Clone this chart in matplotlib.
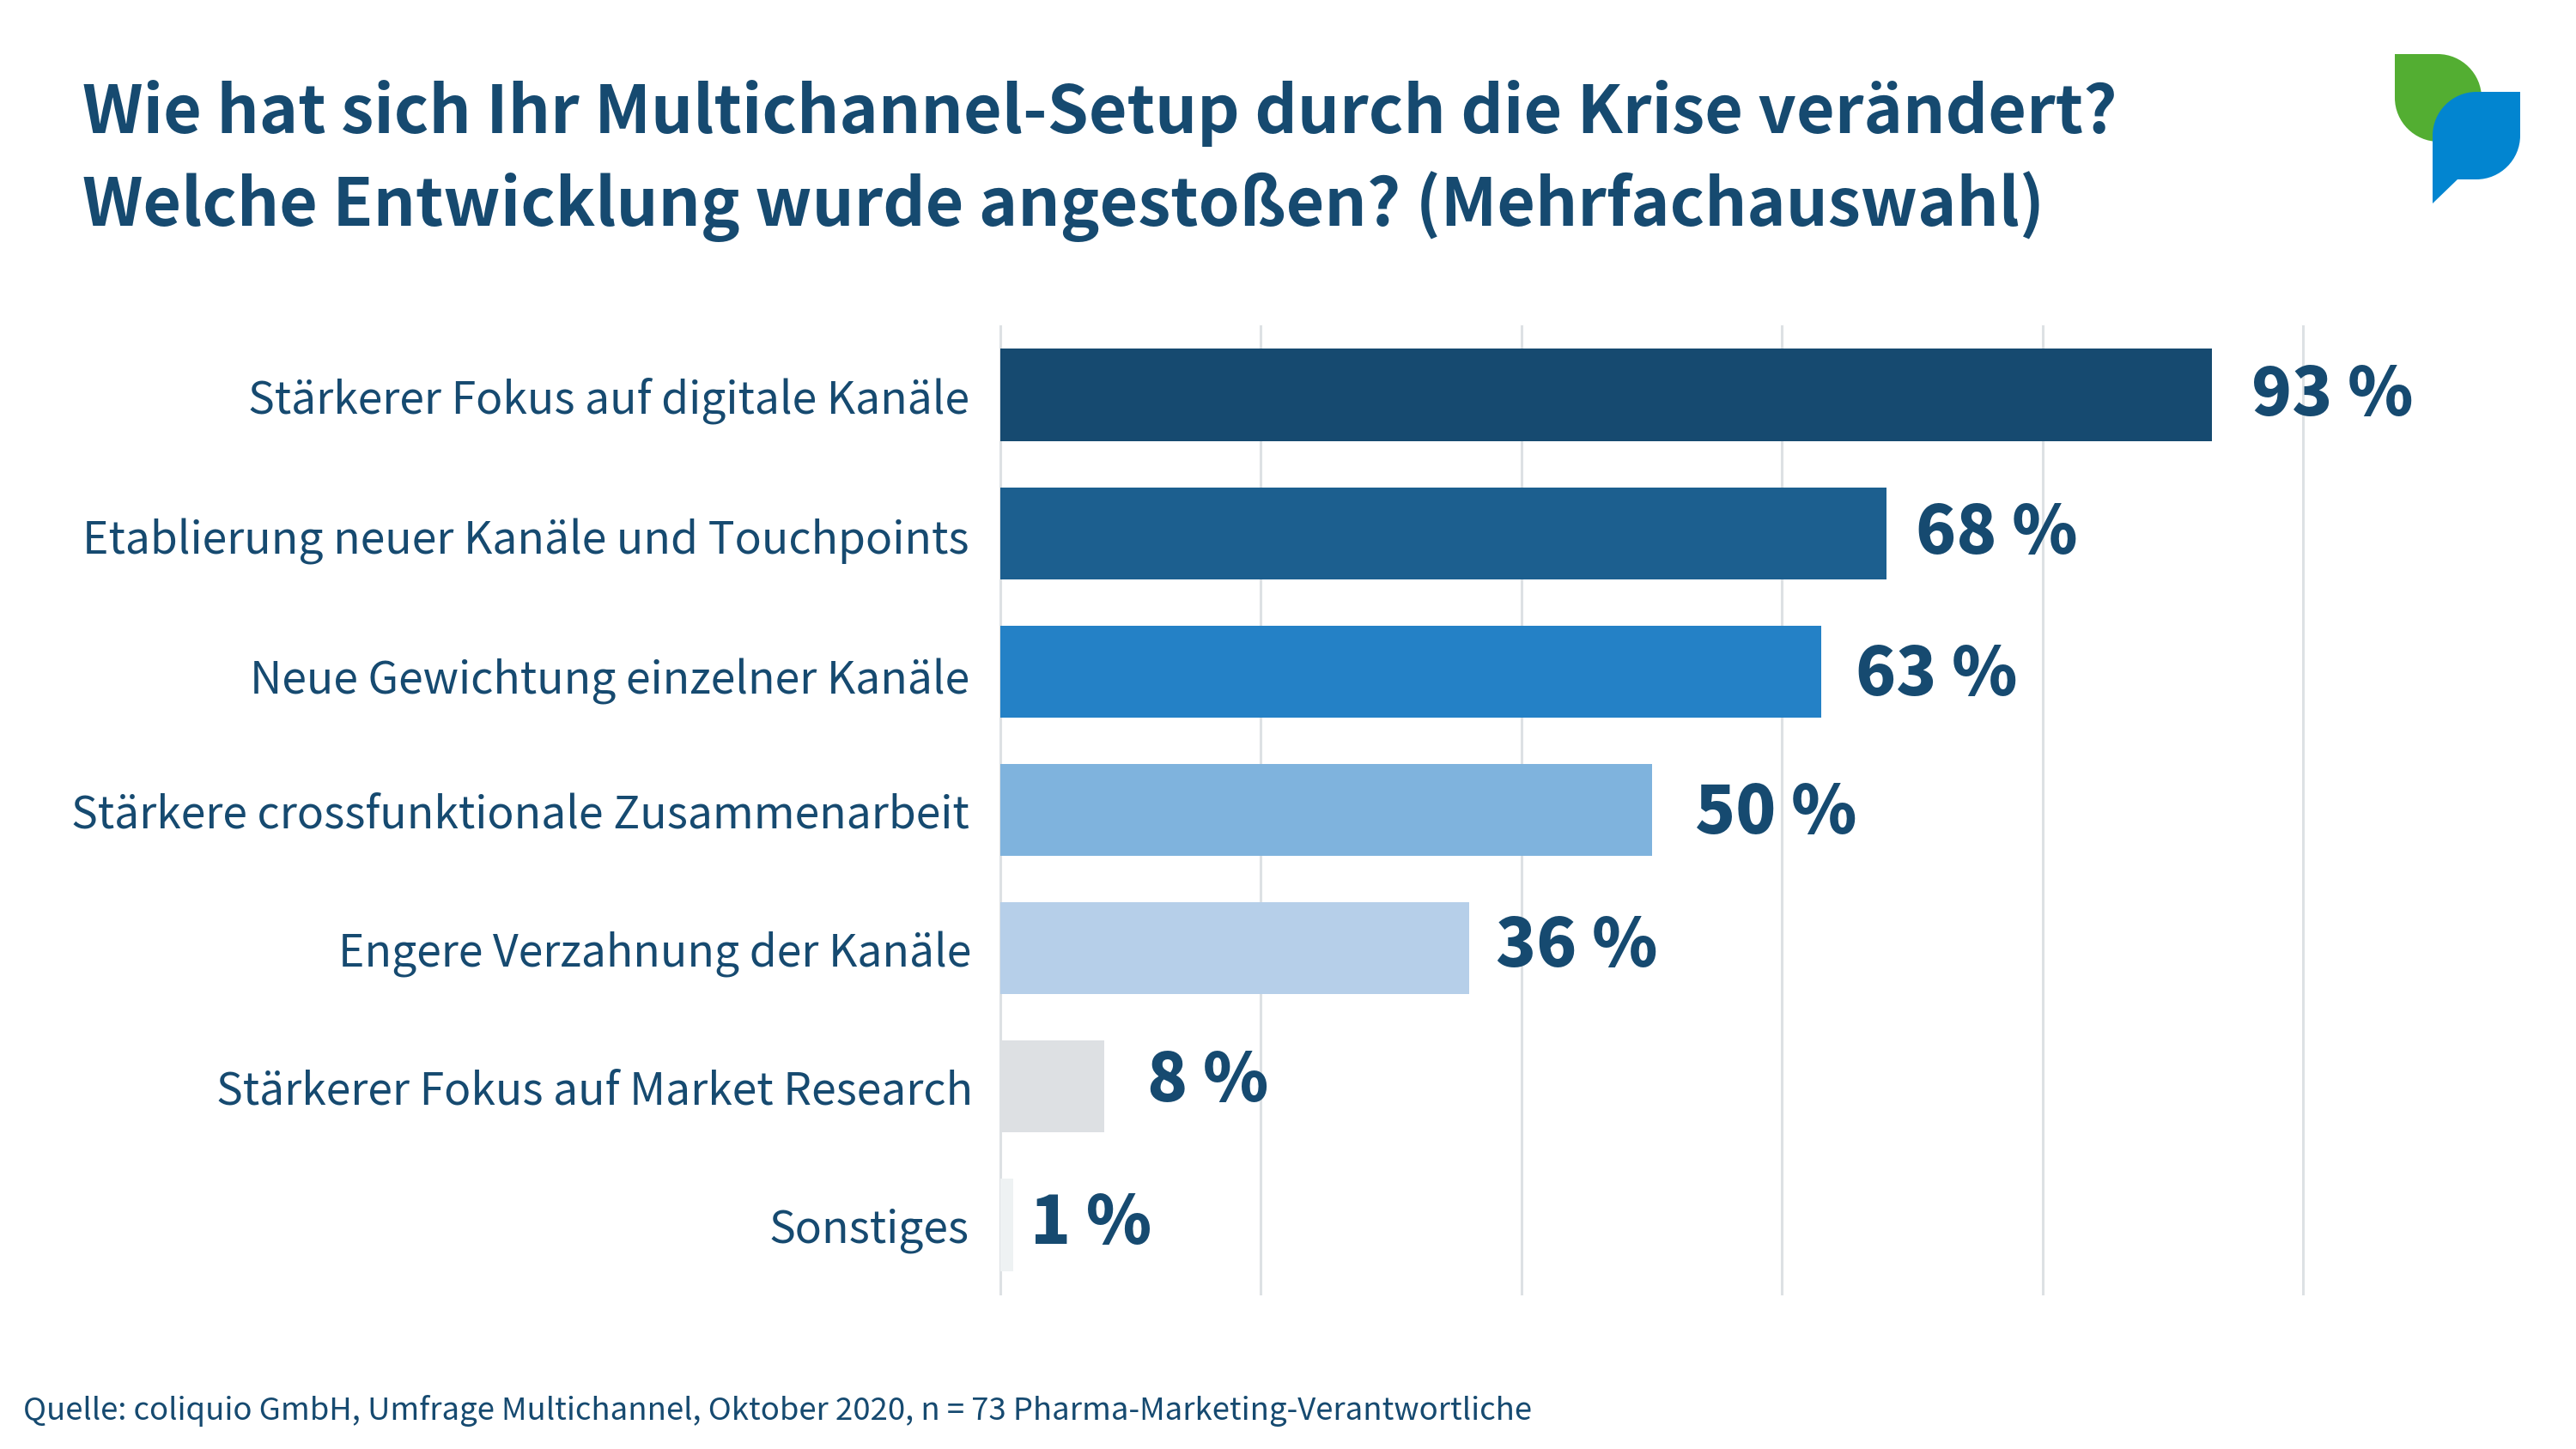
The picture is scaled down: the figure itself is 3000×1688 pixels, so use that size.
import matplotlib
matplotlib.use('Agg')
import matplotlib.pyplot as plt
from matplotlib.path import Path
from matplotlib.patches import PathPatch

categories = ['Stärkerer Fokus auf digitale Kanäle', 'Etablierung neuer Kanäle und Touchpoints',
              'Neue Gewichtung einzelner Kanäle', 'Stärkere crossfunktionale Zusammenarbeit',
              'Engere Verzahnung der Kanäle', 'Stärkerer Fokus auf Market Research', 'Sonstiges']
values = [93, 68, 63, 50, 36, 8, 1]
colors = ['#164a70', '#1c5f8f', '#2481c6', '#7fb3dd', '#b6cfe9', '#dde0e3', '#eef2f3']
ticks = [0, 20, 40, 60, 80, 100]

# kleine Verschiebungen der Beschriftungen wie im Original (Pixel)
value_dx = [46, 34, 40, 50, 31, 50, 20]
value_dy = [-1, -1, -5, -5, 1, 6, 1]
label_dy = [-7, -10, -12, -6, -7, -6, -6]
label_dx = [-36, -36, -36, -36, -34, -32, -36]

title = 'Wie hat sich Ihr Multichannel-Setup durch die Krise verändert?\nWelche Entwicklung wurde angestoßen? (Mehrfachauswahl)'
source = 'Quelle: coliquio GmbH, Umfrage Multichannel, Oktober 2020, n = 73 Pharma-Marketing-Verantwortliche'
text_color = '#164a70'

W, H = 3000, 1688
plt.rcParams['font.family'] = ['Noto Sans CJK JP', 'DejaVu Sans']
fig = plt.figure(figsize=(15, 8.44), dpi=200)

ax = fig.add_axes([1165 / W, 1 - 1507 / H, 1517 / W, (1507 - 380) / H])
ax.set_xlim(0, 100)
ax.set_ylim(6.496, -0.496)
ax.barh(range(len(values)), values, height=0.665, color=colors, zorder=3)
for t in ticks:
    ax.axvline(t, color='#dde1e4', lw=1.1, zorder=1, clip_on=False)
for s in ax.spines.values():
    s.set_visible(False)
ax.set_xticks([])
ax.set_yticks([])

for i, (c, v) in enumerate(zip(categories, values)):
    ax.annotate(c, (0, i), xytext=(label_dx[i], label_dy[i]), textcoords='offset pixels',
                ha='right', va='center', fontsize=18.6, color=text_color)
    ax.annotate(f'{v} %', (v, i), xytext=(value_dx[i], value_dy[i]), textcoords='offset pixels',
                ha='left', va='center', fontsize=27.9, fontweight=900, color=text_color)

fig.text(96 / W, 1 - 132 / H, title.split('\n')[0], fontsize=27.75, fontweight='bold', color=text_color, va='center')
fig.text(96 / W, 1 - 241 / H, title.split('\n')[1], fontsize=27.7, fontweight='bold', color=text_color, va='center')
fig.text(27 / W, 1 - 1643 / H, source, fontsize=13.15, color=text_color, va='center')

# Logo
logo = fig.add_axes([0, 0, 1, 1], facecolor='none')
logo.set_xlim(0, W)
logo.set_ylim(H, 0)
logo.axis('off')
M, L, C, Z = Path.MOVETO, Path.LINETO, Path.CURVE4, Path.CLOSEPOLY
green = Path([(2789, 63), (2839, 63), (2867, 63), (2890, 86), (2890, 114), (2890, 165), (2840, 165),
              (2812, 165), (2789, 142), (2789, 114), (2789, 63)],
             [M, L, C, C, C, L, L, C, C, C, L])
blue = Path([(2935, 107), (2935, 158), (2935, 186), (2912, 209), (2884, 209), (2862, 209), (2833, 237),
             (2833, 158), (2833, 130), (2856, 107), (2884, 107), (2935, 107)],
            [M, L, C, C, C, L, L, L, C, C, C, L])
logo.add_patch(PathPatch(green, fc='#53ae32', lw=0))
logo.add_patch(PathPatch(blue, fc='#0285d0', lw=0))

fig.savefig('out.png', dpi=200)
